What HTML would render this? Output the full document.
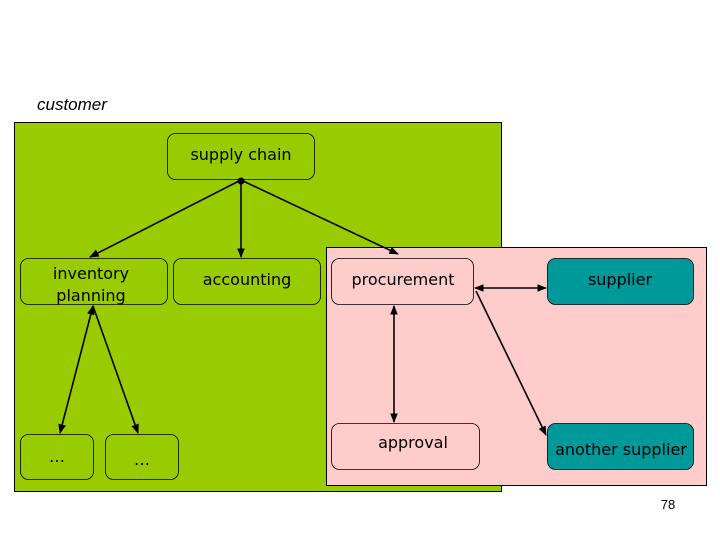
<!DOCTYPE html>
<html><head><meta charset="utf-8"><style>
html,body{margin:0;padding:0;background:#fff;}
svg{display:block;}
text{font-family:"Comic Sans MS","DejaVu Sans","Liberation Sans",sans-serif;font-size:16px;fill:#000;}
</style></head><body>
<svg width="720" height="540" viewBox="0 0 720 540">
<defs>
<marker id="a" viewBox="0 0 10 10" refX="9" refY="5" markerWidth="6" markerHeight="6" orient="auto-start-reverse"><path d="M0,1 L10,5 L0,9 z" fill="#000"/></marker>
</defs>
<text x="37" y="110" style="font-family:'Liberation Sans',sans-serif;font-style:italic;font-size:17px">customer</text>
<rect x="14.5" y="122.5" width="487" height="369" fill="#99cc00" stroke="#000"/>
<rect x="326.5" y="247.5" width="380" height="238" fill="#ffcccc" stroke="#000"/>
<g fill="none" stroke="#000" stroke-width="0.8">
<rect x="167.5" y="133.5" width="147" height="46" rx="8"/>
<rect x="20.5" y="258.5" width="147" height="46" rx="8"/>
<rect x="173.5" y="258.5" width="147" height="46" rx="8"/>
<rect x="331.5" y="258.5" width="142" height="46" rx="8"/>
<rect x="331.5" y="423.5" width="148" height="46" rx="8"/>
<rect x="20.5" y="434.5" width="73" height="45" rx="8"/>
<rect x="105.5" y="434.5" width="73" height="45" rx="8"/>
</g>
<rect x="547.5" y="258.5" width="146" height="46" rx="8" fill="#009999" stroke="#000" stroke-width="0.8"/>
<rect x="547.5" y="423.5" width="146" height="46" rx="8" fill="#009999" stroke="#000" stroke-width="0.8"/>
<g stroke="#000" stroke-width="1.6" fill="none">
<line x1="241" y1="180" x2="90" y2="257" marker-end="url(#a)"/>
<line x1="241" y1="180" x2="241" y2="257" marker-end="url(#a)"/>
<line x1="241" y1="180" x2="398" y2="254" marker-end="url(#a)"/>
<line x1="93" y1="306" x2="60" y2="433" marker-start="url(#a)" marker-end="url(#a)"/>
<line x1="93" y1="306" x2="138" y2="433" marker-end="url(#a)"/>
<line x1="475" y1="288" x2="546" y2="288" marker-start="url(#a)" marker-end="url(#a)"/>
<line x1="476" y1="291" x2="546" y2="435" marker-end="url(#a)"/>
<line x1="394" y1="306" x2="394" y2="422" marker-start="url(#a)" marker-end="url(#a)"/>
</g>
<circle cx="241" cy="181" r="3.5" fill="#000"/>
<text x="241" y="160" text-anchor="middle">supply chain</text>
<text x="91" y="279" text-anchor="middle">inventory</text>
<text x="91" y="301" text-anchor="middle">planning</text>
<text x="247" y="285" text-anchor="middle">accounting</text>
<text x="403" y="285" text-anchor="middle">procurement</text>
<text x="620" y="285" text-anchor="middle">supplier</text>
<text x="413" y="448" text-anchor="middle">approval</text>
<text x="621" y="455" text-anchor="middle">another supplier</text>
<text x="57" y="462" text-anchor="middle">…</text>
<text x="142" y="465" text-anchor="middle">…</text>
<text x="668" y="509" text-anchor="middle" style="font-family:'Liberation Sans',sans-serif;font-size:13px">78</text>
</svg>
</body></html>
